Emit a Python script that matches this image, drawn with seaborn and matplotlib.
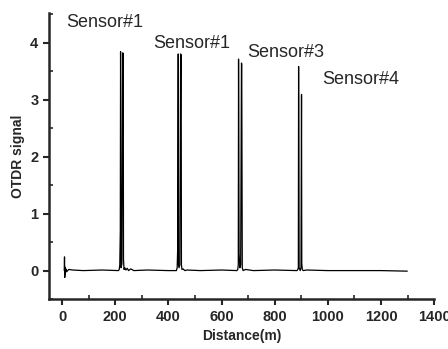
import matplotlib
matplotlib.use('Agg')
import matplotlib.pyplot as plt
import seaborn as sns
import pandas as pd
from matplotlib.ticker import MultipleLocator

# OTDR trace (distance in m, signal)
distance = [8, 9, 10, 11, 12, 14, 17, 25, 40, 80, 150, 212,
            215, 217, 219, 220, 222, 225, 228, 230, 231, 233, 236, 240, 245, 250, 258, 270, 320, 400,
            430, 433, 435, 437, 438, 440, 443, 446, 448, 449, 451, 455, 462, 470, 520, 600,
            658, 661, 663, 664, 666, 669, 672, 675, 676, 678, 681, 690, 720, 800,
            884, 887, 889, 890, 892, 896, 899, 901, 902, 904, 907, 920, 1000, 1100, 1200, 1299]
signal = [0.0, 0.24, -0.12, 0.06, -0.06, 0.03, -0.02, 0.02, 0.01, 0.0, 0.01, 0.0,
          0.02, 0.1, 0.7, 3.84, 0.05, 0.12, 3.82, 3.8, 0.2, 0.02, 0.05, 0.01, 0.04, 0.0, 0.03, 0.0, 0.01, 0.0,
          0.0, 0.05, 0.4, 3.8, 0.1, 0.05, 0.1, 3.8, 3.78, 0.1, 0.02, 0.03, 0.0, 0.01, 0.0, 0.01,
          0.0, 0.02, 0.1, 3.71, 0.3, 0.05, 0.1, 3.64, 3.62, 0.05, 0.0, 0.02, 0.0, 0.01,
          0.0, 0.02, 0.05, 3.58, 0.05, 0.0, 0.05, 3.09, 0.12, 0.02, 0.0, 0.01, 0.0, 0.0, 0.0, -0.01]

labels = ['Sensor#1', 'Sensor#1', 'Sensor#3', 'Sensor#4']
label_x = [15, 342, 697, 978]
label_y = [4.36, 3.98, 3.82, 3.35]

df = pd.DataFrame({'Distance': distance, 'Signal': signal})

sns.set_style('ticks')
plt.rcParams['font.family'] = ['Liberation Sans', 'DejaVu Sans']

fig = plt.figure(figsize=(4.48, 3.49), dpi=100)
ax = fig.add_axes([0.109, 0.143, 0.86, 0.82])

sns.lineplot(data=df, x='Distance', y='Signal', sort=False, estimator=None,
             color='black', linewidth=0.9, ax=ax)

for t, x, y in zip(labels, label_x, label_y):
    ax.text(x, y, t, fontsize=13, va='center', ha='left')

ax.set_xlim(-50, 1400)
ax.set_ylim(-0.5, 4.52)
ax.set_xticks(range(0, 1401, 200))
ax.set_yticks([0, 1, 2, 3, 4])
ax.xaxis.set_minor_locator(MultipleLocator(100))
ax.yaxis.set_minor_locator(MultipleLocator(0.5))
ax.tick_params(which='major', direction='out', length=4, width=1.5, labelsize=10.5)
ax.tick_params(which='minor', direction='in', length=3, width=1.2)
for lab in ax.get_xticklabels() + ax.get_yticklabels():
    lab.set_fontweight('bold')

ax.set_xlabel('Distance(m)', fontsize=10, fontweight='bold', labelpad=4)
ax.set_ylabel('OTDR signal', fontsize=10, fontweight='bold', labelpad=4)

sns.despine(ax=ax)
for s in ['left', 'bottom']:
    ax.spines[s].set_linewidth(1.8)

fig.savefig('out.png', dpi=100)
